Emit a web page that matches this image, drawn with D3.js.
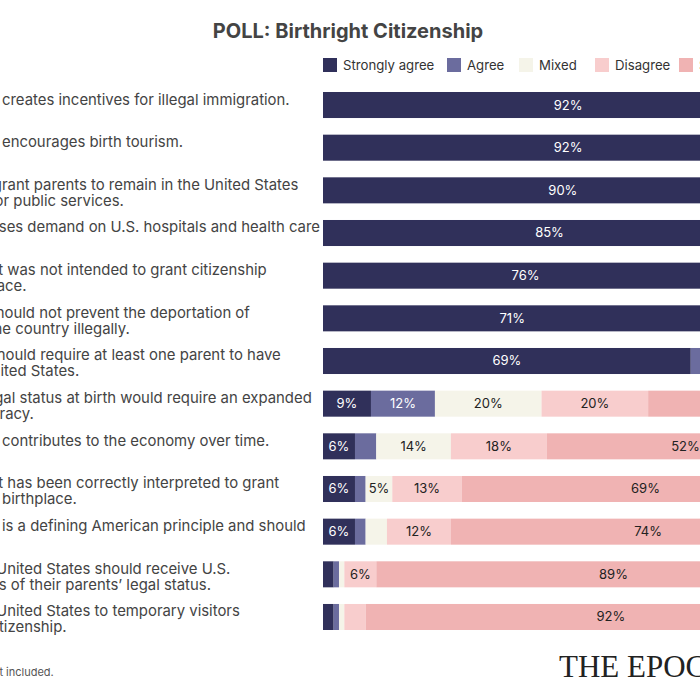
<!DOCTYPE html>
<html>
<head>
<meta charset="utf-8">
<script src="https://cdn.jsdelivr.net/npm/d3@7"></script>
<style>
    body { margin: 0; background: #fff; }
    svg { display: block; font-family: Inter, "Noto Sans", sans-serif; }
</style>
</head>
<body>
<script>
//anonymous function to wrap script
(function(){

    //statements, one array of wrapped lines per row
    var statements = [
        ["Birthright citizenship creates incentives for illegal immigration."],
        ["Birthright citizenship encourages birth tourism."],
        ["It allows illegal immigrant parents to remain in the United States", "and quickly qualify for public services."],
        ["It significantly increases demand on U.S. hospitals and health care", "systems."],
        ["The 14th Amendment was not intended to grant citizenship", "just based on birthplace."],
        ["Federal authorities should not prevent the deportation of", "those who entered the country illegally."],
        ["Citizenship at birth should require at least one parent to have", "legal status in the United States."],
        ["Verifying parents' legal status at birth would require an expanded", "government bureaucracy."],
        ["Birthright citizenship contributes to the economy over time."],
        ["The 14th Amendment has been correctly interpreted to grant", "citizenship based on birthplace."],
        ["Birthright citizenship is a defining American principle and should", "be preserved."],
        ["Children born in the United States should receive U.S.", "citizenship regardless of their parents\u2019 legal status."],
        ["Children born in the United States to temporary visitors", "should not receive citizenship."]
    ];

    //answer shares in percent, one value per statement
    var stronglyAgree    = [92, 92, 90, 85, 76, 71, 69,  9,  6,  6,  6,  2,  2];
    var agree            = [ 5,  4,  6,  9, 14, 18, 19, 12,  4,  2,  2,  1,  1];
    var mixed            = [ 1,  2,  2,  3,  5,  6,  7, 20, 14,  5,  4,  1,  1];
    var disagree         = [ 1,  1,  1,  2,  2,  2,  2, 20, 18, 13, 12,  6,  4];
    var stronglyDisagree = [ 1,  1,  1,  1,  1,  1,  1, 35, 52, 69, 74, 89, 92];

    var answerNames = ["Strongly agree", "Agree", "Mixed", "Disagree", "Strongly disagree"];
    var answerColors = ["#30305a", "#6b6c9e", "#f5f4e9", "#f8cdcd", "#f0b3b3"];
    var labelColors = ["#fff", "#fff", "#222", "#222", "#222"];

    var title = "POLL: Birthright Citizenship";
    var note = "Note: Those who answered \u201cnot sure\u201d are not included.";
    var logo = "THE EPOCH TIMES";

    window.onload = drawChart();

    function drawChart(){
        var width = 700,
            height = 700;

        var svg = d3.select("body")
            .append("svg")
            .attr("width", width)
            .attr("height", height);

        //build one row object per statement
        var series = [stronglyAgree, agree, mixed, disagree, stronglyDisagree];
        var rows = statements.map(function(lines, i){
            var start = 0;
            var segs = series.map(function(s, k){
                var seg = {k: k, x0: start, x1: start + s[i], v: s[i]};
                start += s[i];
                return seg;
            });
            return {id: i, lines: lines, segs: segs};
        });

        //scales - bars run off the right edge like the reference crop
        var x = d3.scaleLinear()
            .domain([0, 100])
            .range([323, 856]);

        var y = d3.scaleBand()
            .domain(rows.map(function(d){ return d.id; }))
            .range([92, 630])
            .paddingInner(0.39)
            .paddingOuter(0);

        //title
        svg.append("text")
            .attr("x", 348)
            .attr("y", 38)
            .attr("text-anchor", "middle")
            .attr("font-size", 20)
            .attr("font-weight", 700)
            .attr("fill", "#444")
            .text(title);

        //legend
        var legendX = [323, 447, 519, 595, 679];
        var legend = svg.selectAll(".legend")
            .data(answerNames)
            .enter()
            .append("g")
            .attr("class", "legend")
            .attr("transform", function(d, i){ return "translate(" + legendX[i] + ",58)"; });

        legend.append("rect")
            .attr("width", 14)
            .attr("height", 14)
            .attr("fill", function(d, i){ return answerColors[i]; });

        legend.append("text")
            .attr("x", 20)
            .attr("y", 12)
            .attr("font-size", 13.2)
            .attr("fill", "#333")
            .text(function(d){ return d; });

        //statement labels, left part cut off like the reference
        var labels = svg.selectAll(".stmt")
            .data(rows)
            .enter()
            .append("text")
            .attr("class", "stmt")
            .attr("font-size", 14.9)
            .attr("fill", "#444");

        labels.selectAll("tspan")
            .data(function(d){ return d.lines.map(function(l, j){ return {t: l, j: j, top: y(d.id)}; }); })
            .enter()
            .append("tspan")
            .attr("x", -147)
            .attr("y", function(d){ return d.top + 12.5 + d.j * 16; })
            .text(function(d){ return d.t; });

        //stacked bars
        var rowG = svg.selectAll(".row")
            .data(rows)
            .enter()
            .append("g")
            .attr("class", "row")
            .attr("transform", function(d){ return "translate(0," + y(d.id) + ")"; });

        rowG.selectAll("rect")
            .data(function(d){ return d.segs; })
            .enter()
            .append("rect")
            .attr("x", function(d){ return x(d.x0); })
            .attr("width", function(d){ return x(d.x1) - x(d.x0); })
            .attr("height", y.bandwidth())
            .attr("fill", function(d){ return answerColors[d.k]; });

        rowG.selectAll(".val")
            .data(function(d){ return d.segs.filter(function(s){ return s.v >= 5; }); })
            .enter()
            .append("text")
            .attr("class", "val")
            .attr("x", function(d){ return (x(d.x0) + x(d.x1)) / 2; })
            .attr("y", y.bandwidth() / 2 + 4.5)
            .attr("text-anchor", "middle")
            .attr("font-size", 13)
            .attr("fill", function(d){ return labelColors[d.k]; })
            .text(function(d){ return d.v + "%"; });

        //note and logo
        svg.append("text")
            .attr("x", -234)
            .attr("y", 676)
            .attr("font-size", 11)
            .attr("fill", "#555")
            .text(note);

        svg.append("text")
            .attr("x", 559)
            .attr("y", 677)
            .attr("font-family", "'Liberation Serif', serif")
            .attr("font-size", 31)
            .attr("fill", "#222")
            .text(logo);
    };

})();
</script>
</body>
</html>
